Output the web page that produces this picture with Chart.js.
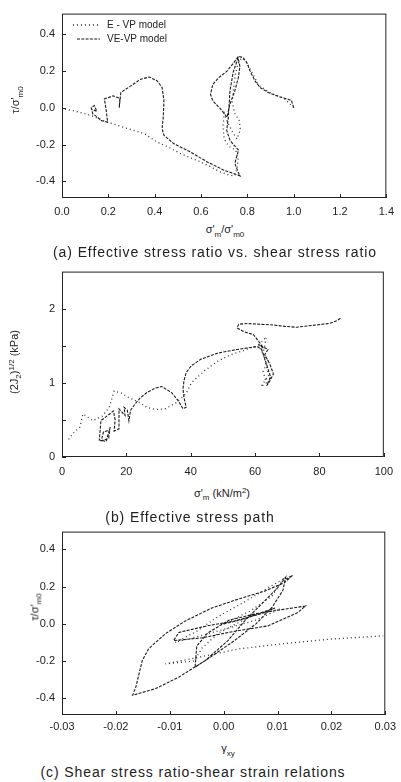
<!DOCTYPE html>
<html>
<head>
<meta charset="utf-8">
<script src="https://cdn.jsdelivr.net/npm/chart.js@4.4.1/dist/chart.umd.min.js"></script>
<style>
    body { margin: 0; background: #fff; width: 401px; height: 782px; position: relative; overflow: hidden;
           font-family: 'Liberation Sans', Arial, sans-serif; color: #222; }
    canvas { position: absolute; left: 0; }
    .lbl { position: absolute; white-space: nowrap; transform: translate(-50%, -50%); font-size: 11px; }
    .ytitle { transform: translate(-50%, -50%) rotate(-90deg); }
    .cap { font-size: 14px; letter-spacing: 0.9px; }
    sub, sup { font-size: 8px; }
</style>
</head>
<body>
<canvas id="chartA" width="401" height="222" style="top:0px"></canvas>
<canvas id="chartB" width="401" height="224" style="top:258px"></canvas>
<canvas id="chartC" width="401" height="214" style="top:518px"></canvas>

<div class="lbl ytitle" style="left:17px; top:100px">τ/σ'<sub>m0</sub></div>
<div class="lbl" style="left:225px; top:231px">σ'<sub>m</sub>/σ'<sub>m0</sub></div>
<div class="lbl cap" style="left:215px; top:252px">(a) Effective stress ratio vs. shear stress ratio</div>

<div class="lbl ytitle" style="left:15px; top:362px">(2J<sub>2</sub>)<sup>1/2</sup> (kPa)</div>
<div class="lbl" style="left:222px; top:494px">σ'<sub>m</sub> (kN/m<sup>2</sup>)</div>
<div class="lbl cap" style="left:190px; top:517px">(b) Effective stress path</div>

<div class="lbl ytitle" style="left:36px; top:607px">τ/σ'<sub>m0</sub></div>
<div class="lbl" style="left:228px; top:750px">γ<sub>xy</sub></div>
<div class="lbl cap" style="left:193px; top:772px">(c) Shear stress ratio-shear strain relations</div>

<script>
// Series labels
const seriesNames = ['E - VP model', 'VE-VP model'];

// (a) effective stress ratio vs shear stress ratio
const aTicksX = [0.0, 0.2, 0.4, 0.6, 0.8, 1.0, 1.2, 1.4];
const aTicksY = [-0.4, -0.2, 0.0, 0.2, 0.4];
const aEvpX = [1.00, 0.96, 0.90, 0.85, 0.82, 0.795, 0.775, 0.76, 0.748, 0.74, 0.735, 0.745, 0.765, 0.77, 0.755, 0.735, 0.715, 0.70, 0.695, 0.70, 0.72, 0.75, 0.76, 0.755, 0.745, 0.72, 0.68, 0.64, 0.596, 0.55, 0.51, 0.46, 0.41, 0.355, 0.30, 0.25, 0.197, 0.16, 0.126, 0.09, 0.048, 0.00];
const aEvpY = [0.00, 0.05, 0.08, 0.12, 0.19, 0.25, 0.27, 0.24, 0.18, 0.10, 0.03, -0.03, -0.07, -0.12, -0.17, -0.13, -0.08, -0.03, -0.10, -0.17, -0.21, -0.23, -0.28, -0.33, -0.37, -0.365, -0.347, -0.32, -0.293, -0.27, -0.248, -0.215, -0.186, -0.141, -0.12, -0.10, -0.079, -0.06, -0.043, -0.03, -0.016, -0.005];
const aVevpX = [1.00, 0.99, 0.947, 0.89, 0.855, 0.833, 0.812, 0.798, 0.783, 0.762, 0.741, 0.712, 0.676, 0.651, 0.641, 0.651, 0.684, 0.712, 0.725, 0.746, 0.761, 0.768, 0.76, 0.739, 0.725, 0.718, 0.711, 0.725, 0.74, 0.762, 0.746, 0.762, 0.769, 0.697, 0.625, 0.554, 0.482, 0.44, 0.432, 0.437, 0.44, 0.432, 0.411, 0.377, 0.339, 0.297, 0.254, 0.247, 0.25, 0.22, 0.183, 0.19, 0.197, 0.168, 0.154, 0.133, 0.126, 0.14, 0.15, 0.13];
const aVevpY = [0.00, 0.04, 0.055, 0.082, 0.109, 0.145, 0.198, 0.243, 0.27, 0.279, 0.243, 0.198, 0.162, 0.126, 0.072, 0.037, -0.007, -0.052, 0.02, 0.091, 0.162, 0.223, 0.27, 0.193, 0.091, -0.052, -0.123, -0.177, -0.20, -0.23, -0.302, -0.355, -0.37, -0.338, -0.293, -0.24, -0.195, -0.15, -0.114, -0.052, 0.038, 0.109, 0.145, 0.166, 0.154, 0.118, 0.082, 0.0, 0.05, 0.064, 0.047, -0.007, -0.079, -0.07, -0.052, -0.034, 0.0, 0.011, -0.02, -0.01];

// (b) effective stress path
const bTicksX = [0, 20, 40, 60, 80, 100];
const bTicksY = [0, 0.5, 1, 1.5, 2];
const bEvpX = [62.0, 63.5, 62.5, 64.0, 62.5, 63.5, 61.8, 64.2, 62.8, 61.5, 58.5, 56.0, 52.4, 48.3, 44.2, 40.2, 38.5, 35.1, 32.0, 29.0, 26.4, 23.9, 20.8, 18.5, 16.2, 14.7, 12.5, 9.6, 6.5, 5.5, 3.5, 1.9];
const bEvpY = [1.55, 1.62, 1.40, 1.30, 1.15, 1.00, 0.95, 1.10, 1.35, 1.50, 1.47, 1.43, 1.38, 1.29, 1.16, 1.00, 0.85, 0.72, 0.65, 0.64, 0.67, 0.74, 0.80, 0.86, 0.89, 0.67, 0.55, 0.49, 0.58, 0.40, 0.32, 0.23];
const bVevpX = [86.5, 85.5, 83.0, 78.9, 72.8, 69.7, 65.7, 61.6, 57.5, 54.9, 54.4, 56.5, 59.5, 61.1, 62.6, 61.0, 64.0, 63.0, 64.6, 65.7, 64.5, 63.6, 64.8, 63.2, 62.0, 60.6, 57.5, 54.4, 48.3, 43.2, 40.2, 38.6, 37.9, 37.6, 37.9, 38.6, 37.6, 36.1, 34.0, 31.0, 29.0, 26.4, 24.4, 22.8, 21.3, 20.8, 20.3, 19.3, 19.6, 17.7, 17.7, 17.7, 16.2, 16.5, 16.0, 12.1, 11.6, 13.7, 14.7, 12.9, 12.2, 14.5, 15.0];
const bVevpY = [1.87, 1.84, 1.80, 1.78, 1.75, 1.76, 1.78, 1.79, 1.80, 1.79, 1.74, 1.69, 1.65, 1.56, 1.47, 1.52, 1.45, 1.38, 1.25, 1.12, 1.02, 0.96, 1.08, 1.30, 1.45, 1.49, 1.47, 1.45, 1.40, 1.32, 1.23, 1.14, 1.03, 0.92, 0.80, 0.67, 0.65, 0.76, 0.87, 0.95, 0.93, 0.87, 0.80, 0.72, 0.63, 0.49, 0.63, 0.67, 0.56, 0.65, 0.50, 0.38, 0.35, 0.50, 0.62, 0.49, 0.23, 0.21, 0.36, 0.34, 0.22, 0.25, 0.42];

// (c) shear stress ratio - shear strain
const cTicksX = [-0.03, -0.02, -0.01, 0.0, 0.01, 0.02, 0.03];
const cTicksY = [-0.4, -0.2, 0.0, 0.2, 0.4];
const cEvpX = [0.0, 0.005, 0.009, 0.011, 0.008, 0.004, -0.001, -0.005, -0.009, -0.005, 0.0, 0.006, 0.0105, 0.005, -0.001, -0.004, -0.0055, -0.0108, -0.0047, 0.0027, 0.0106, 0.0198, 0.0296];
const cEvpY = [0.0, 0.07, 0.15, 0.24, 0.19, 0.12, 0.04, -0.04, -0.10, -0.07, -0.03, 0.02, 0.08, 0.04, -0.05, -0.13, -0.20, -0.215, -0.18, -0.135, -0.108, -0.082, -0.064];
const cVevpX = [0.0, 0.003, 0.0069, 0.0095, 0.007, 0.002, -0.003, -0.0083, -0.0093, -0.004, 0.002, 0.0082, 0.0137, 0.0152, 0.0111, 0.006, 0.001, -0.003, -0.005, -0.0053, -0.002, 0.002, 0.006, 0.009, 0.011, 0.0115, 0.010, 0.0076, 0.0039, 0.0008, -0.0034, -0.0083, -0.0126, -0.0169, -0.0163, -0.0151, -0.0139, -0.0108, -0.0071, -0.0022, 0.0027, 0.0076, 0.0112, 0.0128, 0.0115];
const cVevpY = [0.0, 0.02, 0.06, 0.085, 0.055, 0.015, -0.01, -0.046, -0.09, -0.075, -0.04, -0.011, 0.06, 0.096, 0.078, 0.055, 0.02, -0.05, -0.12, -0.233, -0.17, -0.09, 0.0, 0.09, 0.18, 0.25, 0.193, 0.123, 0.016, -0.09, -0.197, -0.286, -0.348, -0.384, -0.34, -0.197, -0.133, -0.053, 0.016, 0.085, 0.133, 0.176, 0.22, 0.261, 0.24];

// Helpers
function pairs(xs, ys) {
    return xs.map((x, i) => ({ x: x, y: ys[i] }));
}

function fmt(digits) {
    return (v) => (Math.abs(v) < 1e-9 ? 0 : v).toFixed(digits);
}

const lineStyles = {
    evp: { borderColor: '#333', borderWidth: 1.3, borderDash: [1, 3] },
    vevp: { borderColor: '#1a1a1a', borderWidth: 1.1, borderDash: [3, 1.3] }
};

function makeDatasets(evp, vevp) {
    return [
        Object.assign({ label: seriesNames[0], data: evp, showLine: true, pointRadius: 0, tension: 0 }, lineStyles.evp),
        Object.assign({ label: seriesNames[1], data: vevp, showLine: true, pointRadius: 0, tension: 0 }, lineStyles.vevp)
    ];
}

// Frame + inward tick marks
const frameTicks = {
    id: 'frameTicks',
    afterDatasetsDraw(chart) {
        const { ctx, chartArea: a, scales } = chart;
        ctx.save();
        ctx.strokeStyle = '#222';
        ctx.lineWidth = 1;
        ctx.setLineDash([]);
        ctx.strokeRect(a.left + 0.5, a.top + 0.5, a.width - 1, a.height - 1);
        ctx.beginPath();
        scales.x.ticks.forEach(t => {
            const p = Math.round(scales.x.getPixelForValue(t.value)) + 0.5;
            ctx.moveTo(p, a.bottom);
            ctx.lineTo(p, a.bottom - 4);
        });
        scales.y.ticks.forEach(t => {
            const p = Math.round(scales.y.getPixelForValue(t.value)) + 0.5;
            ctx.moveTo(a.left, p);
            ctx.lineTo(a.left + 4, p);
        });
        ctx.stroke();
        ctx.restore();
    }
};

// Legend inside panel (a)
const innerLegend = {
    id: 'innerLegend',
    afterDatasetsDraw(chart, args, opts) {
        if (!opts.show) return;
        const ctx = chart.ctx;
        ctx.save();
        ctx.font = '10px "Liberation Sans", Arial, sans-serif';
        ctx.fillStyle = '#222';
        ctx.textBaseline = 'middle';
        chart.data.datasets.forEach((ds, i) => {
            const y = opts.rows[i];
            ctx.strokeStyle = ds.borderColor;
            ctx.lineWidth = ds.borderWidth;
            ctx.setLineDash(ds.borderDash);
            ctx.beginPath();
            ctx.moveTo(opts.x0[i], y);
            ctx.lineTo(opts.x1, y);
            ctx.stroke();
            ctx.fillText(ds.label, opts.textX, y);
        });
        ctx.restore();
    }
};

function makeOptions(cfg) {
    return {
        responsive: false,
        animation: false,
        layout: { padding: { left: 0, right: 12, top: 12, bottom: 0 } },
        plugins: {
            legend: { display: false },
            tooltip: { enabled: false },
            innerLegend: cfg.legend || { show: false }
        },
        scales: {
            x: {
                type: 'linear',
                min: cfg.xMin,
                max: cfg.xMax,
                grid: { display: false, drawTicks: false },
                border: { display: false },
                afterBuildTicks: (s) => { s.ticks = cfg.xTicks.map(v => ({ value: v })); },
                afterFit: (s) => { s.height = cfg.xAxisH; },
                ticks: {
                    autoSkip: false,
                    maxRotation: 0,
                    padding: cfg.xPad,
                    color: '#222',
                    font: { family: 'Liberation Sans', size: 11 },
                    callback: cfg.xFmt
                }
            },
            y: {
                type: 'linear',
                min: cfg.yMin,
                max: cfg.yMax,
                grid: { display: false, drawTicks: false },
                border: { display: false },
                afterBuildTicks: (s) => { s.ticks = cfg.yTicks.map(v => ({ value: v })); },
                afterFit: (s) => { s.width = 62; },
                ticks: {
                    autoSkip: false,
                    padding: 7,
                    color: '#222',
                    font: { family: 'Liberation Sans', size: 11 },
                    callback: cfg.yFmt
                }
            }
        }
    };
}

function setupCharts() {
    // Panel (a)
    new Chart(document.getElementById('chartA').getContext('2d'), {
        type: 'scatter',
        data: { datasets: makeDatasets(pairs(aEvpX, aEvpY), pairs(aVevpX, aVevpY)) },
        options: makeOptions({
            xMin: 0, xMax: 1.4, yMin: -0.49, yMax: 0.51,
            xTicks: aTicksX, yTicks: aTicksY,
            xFmt: fmt(1), yFmt: fmt(1),
            xAxisH: 24, xPad: 7,
            legend: { show: true, rows: [25, 39], x0: [73, 77], x1: 100, textX: 107 }
        }),
        plugins: [frameTicks, innerLegend]
    });

    // Panel (b)
    new Chart(document.getElementById('chartB').getContext('2d'), {
        type: 'scatter',
        data: { datasets: makeDatasets(pairs(bEvpX, bEvpY), pairs(bVevpX, bVevpY)) },
        options: makeOptions({
            xMin: 0, xMax: 100, yMin: 0, yMax: 2.5,
            xTicks: bTicksX, yTicks: bTicksY,
            xFmt: (v) => String(v), yFmt: (v) => (Number.isInteger(v) ? String(v) : ''),
            xAxisH: 25, xPad: 8
        }),
        plugins: [frameTicks, innerLegend]
    });

    // Panel (c)
    new Chart(document.getElementById('chartC').getContext('2d'), {
        type: 'scatter',
        data: { datasets: makeDatasets(pairs(cEvpX, cEvpY), pairs(cVevpX, cVevpY)) },
        options: makeOptions({
            xMin: -0.03, xMax: 0.03, yMin: -0.49, yMax: 0.496,
            xTicks: cTicksX, yTicks: cTicksY,
            xFmt: fmt(2), yFmt: fmt(1),
            xAxisH: 17, xPad: 5
        }),
        plugins: [frameTicks, innerLegend]
    });
}

setupCharts();
</script>
</body>
</html>
